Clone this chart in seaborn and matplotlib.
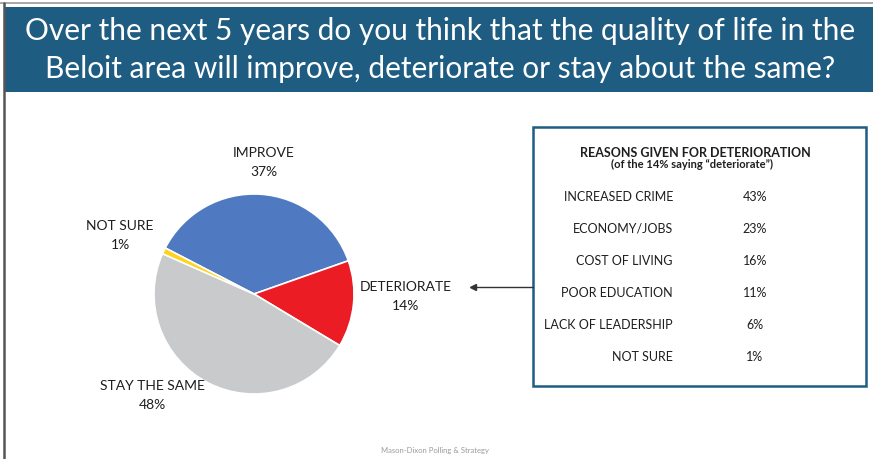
import matplotlib
matplotlib.use("Agg")
import matplotlib.pyplot as plt
from matplotlib.patches import Rectangle
import seaborn as sns

# Survey responses
answers = ["IMPROVE", "DETERIORATE", "STAY THE SAME", "NOT SURE"]
shares = [37, 14, 48, 1]
slice_colors = ["#4F7AC1", "#EC1C24", "#C8CACC", "#FFD21C"]

# Follow-up breakdown for the "deteriorate" answer
reasons = ["INCREASED CRIME", "ECONOMY/JOBS", "COST OF LIVING",
           "POOR EDUCATION", "LACK OF LEADERSHIP", "NOT SURE"]
reason_shares = [43, 23, 16, 11, 6, 1]

title_lines = ["Over the next 5 years do you think that the quality of life in the",
               "Beloit area will improve, deteriorate or stay about the same?"]

sns.set_theme(style="white")
plt.rcParams["font.family"] = ["Lato", "DejaVu Sans"]

W, H = 873, 459
fig = plt.figure(figsize=(W / 100, H / 100), dpi=100)
fig.patch.set_facecolor("white")


def fx(x):
    return x / W


def fy(y):
    return 1 - y / H


text_col = "#1e1e1e"
band_col = "#1F5C82"

# Frame lines and header band
fig.add_artist(plt.Line2D([0, 1], [fy(2.5), fy(2.5)], color="#9a9a9a", lw=1.2))
fig.add_artist(plt.Line2D([fx(4), fx(4)], [fy(3), 0], color="#555555", lw=1.8))
fig.add_artist(Rectangle((fx(5), fy(92)), 1 - fx(5), fy(7) - fy(92),
                         transform=fig.transFigure, facecolor=band_col,
                         edgecolor="none"))
fig.text(fx(440), fy(31), title_lines[0], color="white", fontsize=21.5,
         ha="center", va="center")
fig.text(fx(440), fy(69), title_lines[1], color="white", fontsize=21.5,
         ha="center", va="center")

# Pie chart
cx, cy, R = 254, 294, 101
ax = fig.add_axes([fx(cx - R), fy(cy + R), (2 * R) / W, (2 * R) / H])
ax.pie(shares, colors=slice_colors, startangle=152.6, counterclock=False,
       radius=1.0, wedgeprops=dict(edgecolor="white", linewidth=1.2))
ax.set_xlim(-1.01, 1.01)
ax.set_ylim(-1.01, 1.01)
ax.set_aspect("equal")
ax.axis("off")

label_pos = {"IMPROVE": (264, 153), "DETERIORATE": (406, 287),
             "STAY THE SAME": (152, 386), "NOT SURE": (120, 226)}
for name, val in zip(answers, shares):
    x, y = label_pos[name]
    fig.text(fx(x), fy(y), name, ha="center", va="center", fontsize=10,
             color=text_col)
    fig.text(fx(x), fy(y + 19), f"{val}%", ha="center", va="center",
             fontsize=10, color=text_col)

# Arrow from the table to the DETERIORATE label
fig.add_artist(plt.Line2D([fx(471), fx(533)], [fy(287), fy(287)],
                          color="#333333", lw=1.0))
fig.add_artist(plt.Line2D([fx(473)], [fy(287)], marker="<", markersize=4,
                          color="#333333", lw=0))

# Reasons table
fig.add_artist(Rectangle((fx(533), fy(386)), fx(866) - fx(533),
                         fy(127) - fy(386), transform=fig.transFigure,
                         facecolor="white", edgecolor=band_col, lw=1.8))
fig.text(fx(695), fy(153), "REASONS GIVEN FOR DETERIORATION", ha="center",
         va="center", fontsize=9.0, fontweight="bold", color=text_col)
fig.text(fx(692), fy(164.5), "(of the 14% saying \u201cdeteriorate\u201d)",
         ha="center", va="center", fontsize=8.0, fontweight="bold",
         color=text_col)
for i, (r, v) in enumerate(zip(reasons, reason_shares)):
    y = 197 + 32 * i
    fig.text(fx(673), fy(y), r, ha="right", va="center", fontsize=9.0,
             color=text_col)
    fig.text(fx(755), fy(y), f"{v}%", ha="center", va="center",
             fontsize=9.0, color=text_col)

fig.text(fx(435), fy(450), "Mason-Dixon Polling & Strategy", ha="center",
         va="center", fontsize=5.5, color="#9a9a9a")

fig.savefig("out.png", dpi=100)
